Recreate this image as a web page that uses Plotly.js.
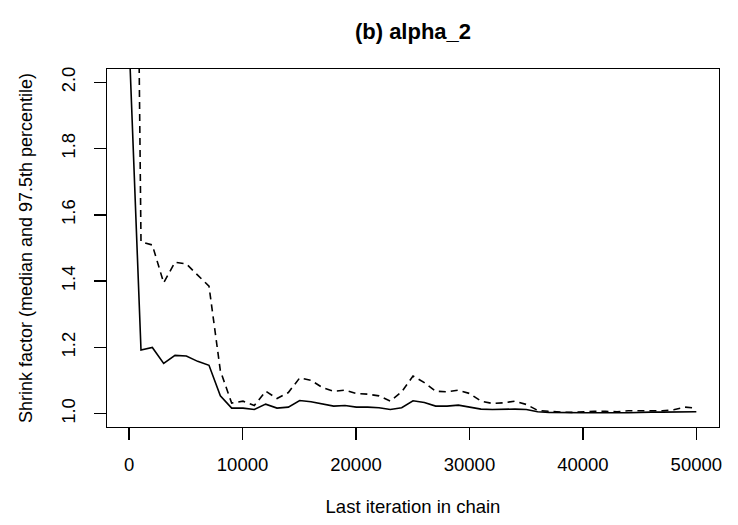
<!DOCTYPE html>
<html>
<head>
<meta charset="utf-8">
<script src="https://cdn.plot.ly/plotly-3.0.1.min.js"></script>
<style>html,body{margin:0;padding:0;background:#fff;}#chart{width:738px;height:525px;}</style>
</head>
<body>
<div id="chart"></div>
<script>
const lastIter = [51, 1050, 2049, 3048, 4047, 5046, 6045, 7044, 8043, 9042,
  10041, 11040, 12039, 13038, 14037, 15036, 16035, 17034, 18033, 19032,
  20031, 21030, 22029, 23028, 24027, 25026, 26025, 27024, 28023, 29022,
  30021, 31020, 32019, 33018, 34017, 35016, 36015, 37014, 38013, 39012,
  40011, 41010, 42009, 43008, 44007, 45006, 46005, 47004, 48003, 49002, 50000];

const medianShrink = [2.08, 1.192, 1.200, 1.152, 1.176, 1.174, 1.158, 1.146, 1.054, 1.017,
  1.017, 1.013, 1.029, 1.017, 1.020, 1.040, 1.036, 1.030, 1.023, 1.025,
  1.020, 1.020, 1.018, 1.013, 1.018, 1.039, 1.034, 1.023, 1.023, 1.026,
  1.020, 1.014, 1.013, 1.014, 1.014, 1.013, 1.006, 1.004, 1.003, 1.003,
  1.003, 1.003, 1.004, 1.003, 1.003, 1.005, 1.005, 1.005, 1.006, 1.006, 1.006];

const upperShrink = [4.8, 1.519, 1.509, 1.395, 1.457, 1.452, 1.418, 1.385, 1.13, 1.032,
  1.038, 1.025, 1.068, 1.046, 1.064, 1.108, 1.101, 1.079, 1.068, 1.071,
  1.061, 1.059, 1.054, 1.038, 1.066, 1.114, 1.094, 1.068, 1.066, 1.071,
  1.061, 1.038, 1.031, 1.033, 1.038, 1.028, 1.010, 1.007, 1.005, 1.004,
  1.006, 1.007, 1.007, 1.006, 1.009, 1.010, 1.009, 1.009, 1.012, 1.020, 1.017];

const xTicks = [0, 10000, 20000, 30000, 40000, 50000];
const yTicks = [1.0, 1.2, 1.4, 1.6, 1.8, 2.0];
const yTickText = ["1.0", "1.2", "1.4", "1.6", "1.8", "2.0"];

const traces = [
  {x: lastIter, y: medianShrink, type: 'scatter', mode: 'lines', name: 'median',
   line: {color: '#000', width: 1.6}, hoverinfo: 'x+y'},
  {x: lastIter, y: upperShrink, type: 'scatter', mode: 'lines', name: '97.5%',
   line: {color: '#000', width: 1.6, dash: '7px,5px'}, hoverinfo: 'x+y'}
];

const fam = '"Liberation Sans", Arial, sans-serif';
const font = {family: fam, color: '#000', size: 18.5};

const layout = {
  width: 738, height: 525,
  margin: {l: 107, r: 19, t: 69, b: 98},
  paper_bgcolor: '#fff', plot_bgcolor: '#fff',
  showlegend: false,
  font: font,
  title: {text: '<b>(b) alpha_2</b>', font: {family: fam, size: 22, color: '#000'},
          x: 0.5, xref: 'paper', y: 1, yref: 'paper', yanchor: 'bottom', pad: {b: 30}},
  xaxis: {
    range: [-1947, 51998], showgrid: false, zeroline: false,
    showline: true, mirror: true, linecolor: '#000', linewidth: 1.3,
    ticks: 'outside', ticklen: 12, tickcolor: '#000', tickwidth: 1.3,
    tickmode: 'array', tickvals: xTicks, ticktext: xTicks.map(String),
    ticklabelstandoff: 8,
    tickfont: font,
    title: {text: 'Last iteration in chain', font: font, standoff: 26}
  },
  yaxis: {
    range: [0.96, 2.04], showgrid: false, zeroline: false,
    showline: true, mirror: true, linecolor: '#000', linewidth: 1.3,
    ticks: 'outside', ticklen: 12, tickcolor: '#000', tickwidth: 1.3,
    tickmode: 'array', tickvals: yTicks, ticktext: yTickText,
    tickangle: -90, ticklabelstandoff: 11,
    tickfont: font,
    title: {text: 'Shrink factor (median and 97.5th percentile)', font: {family: fam, color: '#000', size: 18}, standoff: 21}
  }
};

Plotly.newPlot('chart', traces, layout, {displayModeBar: false, staticPlot: true});
</script>
</body>
</html>
